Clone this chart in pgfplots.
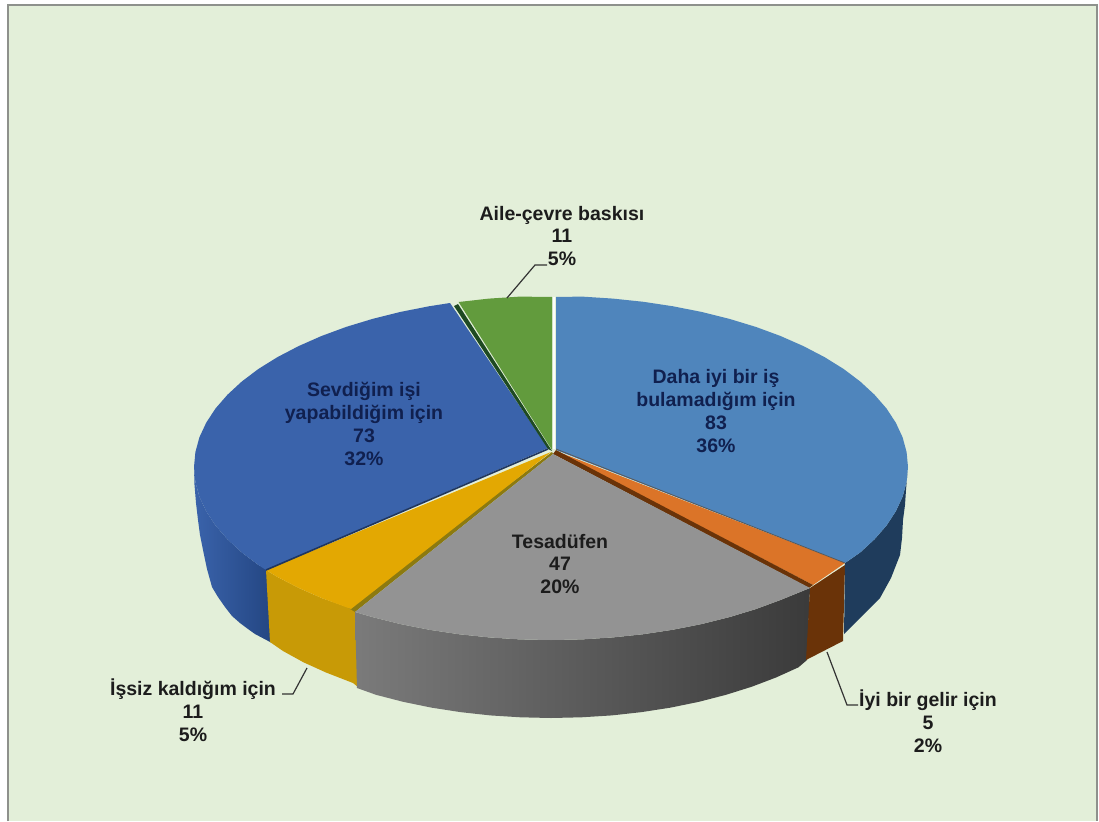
\documentclass[border=0pt]{standalone}
\usepackage{fontspec}
\setmainfont{Liberation Sans}
\usepackage{pgfplots}
\pgfplotsset{compat=1.18}

\definecolor{bgc}{HTML}{E3EFD9}
\definecolor{framec}{HTML}{8E918C}
\definecolor{lblue}{HTML}{4F85BC}
\definecolor{navy}{HTML}{1F3C5C}
\definecolor{orng}{HTML}{DB7428}
\definecolor{brwn}{HTML}{6A3308}
\definecolor{gray1}{HTML}{939393}
\definecolor{ambr}{HTML}{E3A802}
\definecolor{ambrd}{HTML}{C89A06}
\definecolor{olive}{HTML}{8C7A10}
\definecolor{rblue}{HTML}{3A63AB}
\definecolor{rblued}{HTML}{2A5299}
\definecolor{grn}{HTML}{629B3D}
\definecolor{grnd}{HTML}{1E4A22}
\definecolor{txtb}{HTML}{10204F}
\definecolor{txtk}{HTML}{1C1C1C}

\tikzset{
    lab/.style={align=center, font=\fontsize{19.5}{22.8}\selectfont\bfseries, text=txtk, inner sep=0pt},
    leader/.style={draw=black!80, line width=1.2pt},
}

\begin{document}
\begin{tikzpicture}
\begin{axis}[
    scale only axis,
    width=1099pt, height=821pt,
    xmin=0, xmax=1099, ymin=0, ymax=821,
    y dir=reverse,
    hide axis,
]
% page and panel
\addplot[fill=white, draw=none] coordinates {(0,0) (1099,0) (1099,821) (0,821)} -- cycle;
\addplot[fill=bgc, draw=none] coordinates {(8,5) (1097,5) (1097,821) (8,821)} -- cycle;
\addplot[draw=framec, line width=1.6pt] coordinates {(8,821) (8,5) (1097,5) (1097,821)};

% side walls
\addplot[draw=none, left color=rblue, right color=rblued!85!black] coordinates {
    (194,467) (195.4,481.9) (199.4,496.7) (206.2,511.3) (215.5,525.5) (227.5,539.3) (241.8,552.5) (258.5,565) (268,570)
    (272,643) (255,634) (248,629) (240,623) (232,616) (225,607) (218,597) (212,587) (207,569) (203,550) (200,535) (198,520) (196,503) (194.5,485)} -- cycle;
\addplot[fill=ambrd, draw=none] coordinates {
    (266,570) (277.5,577) (298.6,587.9) (321.5,598) (347,607) (356,612) (358,687) (353,683) (326,672.5) (303.5,662.3) (283,651) (270,642)} -- cycle;
\addplot[draw=none, left color=black!52, middle color=black!72, right color=black!77] coordinates {
    (355,612) (372.5,617.1) (400.1,624) (428.9,629.7) (458.6,634.2) (489,637.4) (519.9,639.4) (551,640)
    (582.1,639.4) (613,637.4) (643.4,634.2) (673.1,629.7) (701.9,624) (729.5,617.1) (755.8,609.1) (780.5,600) (810,588)
    (807,660) (798.5,667.3) (776,677.5) (751.8,686.7) (726,694.8) (698.9,701.8) (670.7,707.6) (641.6,712.1) (611.8,715.4) (581.5,717.3)
    (551,718) (520.5,717.3) (490.2,715.4) (460.4,712.1) (431.3,707.6) (403.1,701.8) (376,694.8) (357,688)} -- cycle;
\addplot[fill=brwn, draw=none] coordinates {(810,588) (845,565) (843,641) (806,660)} -- cycle;
\addplot[fill=navy, draw=none] coordinates {
    (845,563) (860.2,552.5) (874.5,539.3) (886.5,525.5) (895.8,511.3) (902.6,496.7) (906.6,481.9) (907.5,472)
    (906,490) (905,505) (903,520) (902,538) (900,555) (891,578) (880,598) (865,613) (844,634)} -- cycle;

% top faces
\addplot[fill=olive, draw=none] coordinates {(552,452) (347,607) (355,612) (553,454)} -- cycle;
\addplot[fill=lblue, draw=none] coordinates {
    (556,450) (556,297) (582.1,296.6) (613,298.6) (643.4,301.8) (673.1,306.3) (701.9,312) (729.5,318.9) (755.8,326.9) (780.5,336)
    (803.4,346.1) (824.5,357.1) (843.5,368.9) (860.2,381.5) (874.5,394.7) (886.5,408.5) (895.8,422.7) (902.6,437.3) (906.6,452.1)
    (908,467) (906.6,481.9) (902.6,496.7) (895.8,511.3) (886.5,525.5) (874.5,539.3) (860.2,552.5) (845,563)} -- cycle;
\addplot[fill=orng, draw=none] coordinates {(556,451) (845,563) (813,585)} -- cycle;
\addplot[fill=brwn, draw=none] coordinates {(556,450) (813,585) (809,588) (553,454)} -- cycle;
\addplot[fill=gray1, draw=none] coordinates {
    (553,454) (810,588) (780.5,600) (755.8,609.1) (729.5,617.1) (701.9,624) (673.1,629.7) (643.4,634.2) (613,637.4) (582.1,639.4)
    (551,640) (519.9,639.4) (489,637.4) (458.6,634.2) (428.9,629.7) (400.1,624) (372.5,617.1) (355,612)} -- cycle;
\addplot[fill=ambr, draw=none] coordinates {(551,452) (351,609) (347,607.5) (321.5,598) (298.6,587.9) (277.5,577) (266,570)} -- cycle;
\addplot[fill=rblue, draw=none] coordinates {
    (548,448) (450,303) (428.9,306.3) (400.1,312) (372.5,318.9) (346.2,326.9) (321.5,336) (298.6,346.1) (277.5,357.1) (258.5,368.9)
    (241.8,381.5) (227.5,394.7) (215.5,408.5) (206.2,422.7) (199.4,437.3) (195.4,452.1) (194,467) (195.4,481.9) (199.4,496.7)
    (206.2,511.3) (215.5,525.5) (227.5,539.3) (241.8,552.5) (258.5,565) (266,570)} -- cycle;
\addplot[fill=grn, draw=none] coordinates {(552,450) (552,297) (519.9,296.6) (489,298.6) (458.6,302)} -- cycle;

% cut walls seen as thin edges
\addplot[fill=grnd, draw=none] coordinates {(458,304) (552,451) (548,449) (454,306)} -- cycle;
\addplot[draw=rblue!55!black, line width=1.6pt] coordinates {(548,449) (266,570)};
\addplot[draw=white!90!bgc, line width=1.8pt] coordinates {(554,297) (554,449)};
\addplot[draw=black!65, line width=0.8pt] coordinates {(556,449) (845,563)};

% leader lines
\addplot[leader] coordinates {(507,298) (535,265) (547,265)};
\addplot[leader] coordinates {(307,668) (293,694) (282,694)};
\addplot[leader] coordinates {(827,652) (847,705) (858,705)};

% labels
\node[lab, text=txtb] at (axis cs:716,411) {Daha iyi bir iş\\bulamadığım için\\83\\36\%};
\node[lab, text=txtb] at (axis cs:364,424) {Sevdiğim işi\\yapabildiğim için\\73\\32\%};
\node[lab] at (axis cs:560,564) {Tesadüfen\\47\\20\%};
\node[lab] at (axis cs:562,236) {Aile-çevre baskısı\\11\\5\%};
\node[lab] at (axis cs:193,710) {İşsiz kaldığım için\\11\\5\%};
\node[lab] at (axis cs:928,721) {İyi bir gelir için\\5\\2\%};
\end{axis}
\end{tikzpicture}
\end{document}
